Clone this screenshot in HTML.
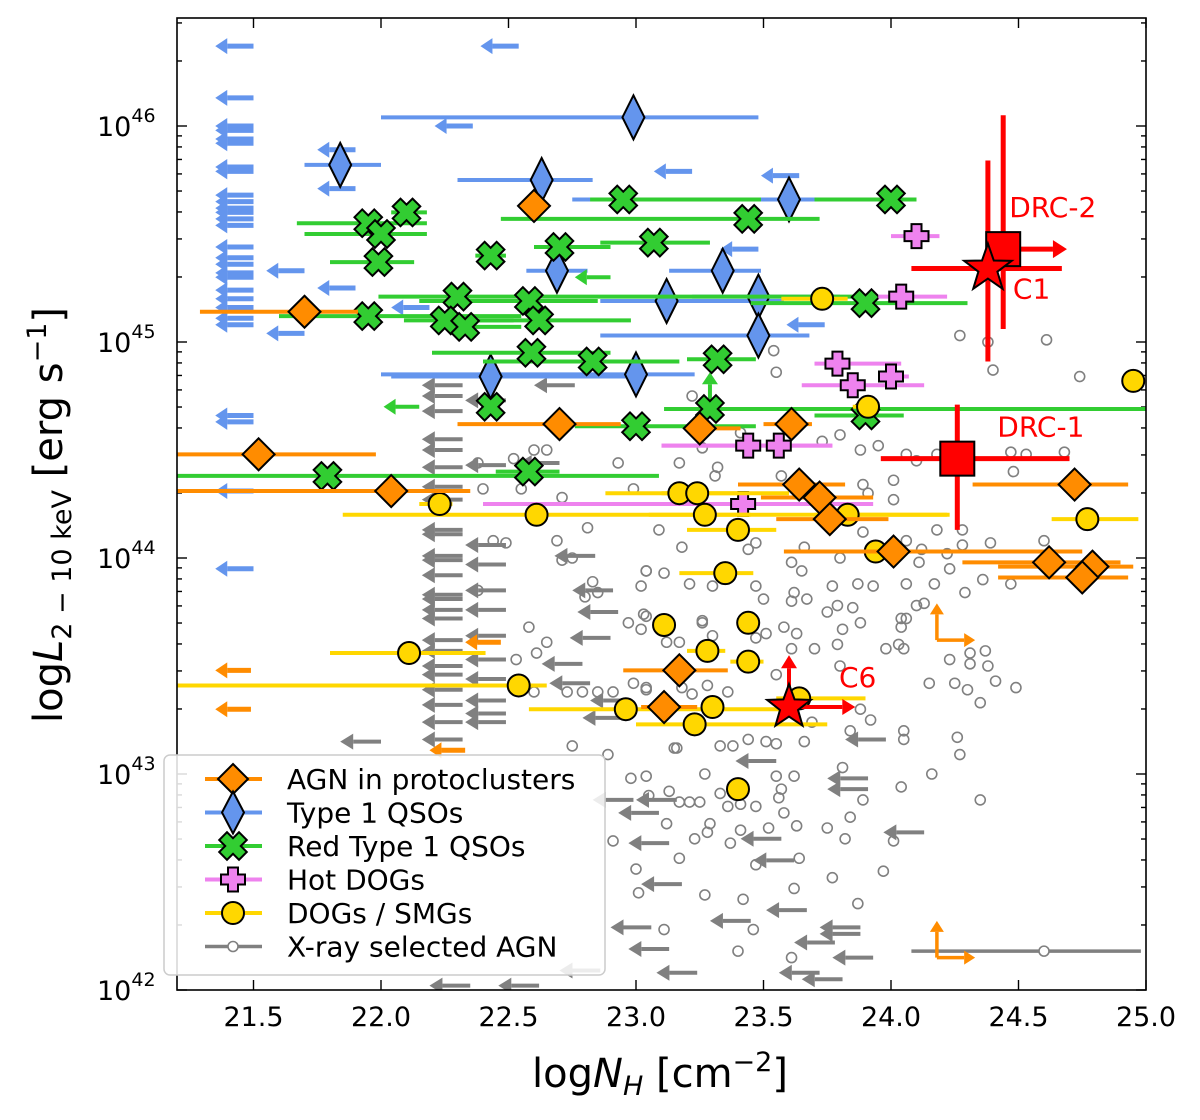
<!DOCTYPE html>
<html><head><meta charset="utf-8"><style>
html,body{margin:0;padding:0;background:#fff;}
svg{display:block;font-family:"DejaVu Sans","Liberation Sans",sans-serif;}
</style></head><body>
<svg id="chart" xmlns="http://www.w3.org/2000/svg" width="1200" height="1120" viewBox="0 0 1200 1120">
<rect x="0" y="0" width="1200" height="1120" fill="#fff"/>
<g id="ticks"></g>
<g id="plot"></g>
<rect x="177" y="18" width="969" height="972" fill="none" stroke="#000" stroke-width="1.6"/>
<g id="legend"></g>
<text x="660" y="1087" font-size="40" text-anchor="middle">log<tspan font-style="italic">N</tspan><tspan font-style="italic" font-size="27" dy="8">H</tspan><tspan dy="-8"> [cm</tspan><tspan font-size="27" dy="-16">−2</tspan><tspan dy="16">]</tspan></text>
<text transform="translate(62,515) rotate(-90)" font-size="40" text-anchor="middle">log<tspan font-style="italic">L</tspan><tspan font-size="27" dy="9">2 − 10 keV</tspan><tspan dy="-9"> [erg s</tspan><tspan font-size="27" dy="-16">−1</tspan><tspan dy="16">]</tspan></text>
</svg>
<script>
// ---- data (x = log NH, y = log L) ----
const xTicks=[21.5,22.0,22.5,23.0,23.5,24.0,24.5,25.0];
const xTickLabels=["21.5","22.0","22.5","23.0","23.5","24.0","24.5","25.0"];
const yTicks=[42,43,44,45,46];
const yTickLabels=["42","43","44","45","46"];

const agnNH=[21.70,22.60,21.52,22.04,22.70,23.25,23.61,23.64,23.72,23.76,24.01,24.72,24.62,24.79,24.75,23.17,23.11];
const agnL=[45.14,45.63,44.48,44.31,44.62,44.60,44.62,44.34,44.28,44.18,44.03,44.34,43.98,43.96,43.91,43.48,43.31];
const agnLo=[21.29,22.60,21.20,21.20,22.30,23.21,23.50,23.40,23.49,23.55,23.58,24.32,24.28,24.42,24.42,22.95,23.02];
const agnHi=[21.91,22.60,21.98,22.35,22.94,23.41,23.69,23.82,23.93,23.99,24.75,24.93,24.90,24.95,24.93,23.36,23.24];
const agnUlNH=[21.49,21.49,22.47,22.33];
const agnUlL=[43.48,43.30,43.61,43.11];
const agnLlNH=[24.18,24.18];
const agnLlL=[43.62,42.15];

const qsoNH=[22.99,21.84,22.63,23.60,22.69,23.34,23.12,23.48,23.48,22.43,23.00];
const qsoL=[46.04,45.82,45.75,45.66,45.33,45.33,45.19,45.21,45.03,44.84,44.85];
const qsoLo=[22.00,21.70,22.30,22.75,22.57,23.13,22.86,23.22,22.86,22.04,22.00];
const qsoHi=[23.48,22.00,22.83,23.70,22.81,23.49,23.58,23.80,23.68,23.02,23.23];
const qsoUlNH=[21.5,21.5,21.5,21.5,21.5,21.5,21.5,21.5,21.5,21.5,21.5,21.5,21.5,21.5,21.5,21.5,21.5,21.5,21.5,21.5,21.5,21.5,21.5,21.5,21.5,21.5,21.5,21.5,22.54,22.36,21.90,21.90,21.70,21.90,21.70,23.22,23.64,23.48,23.74,22.19];
const qsoUlL=[46.37,46.13,46.00,45.98,45.94,45.92,45.81,45.79,45.68,45.65,45.62,45.60,45.57,45.54,45.44,45.39,45.36,45.32,45.30,45.24,45.20,45.16,45.11,45.08,44.66,44.63,44.31,43.95,46.37,46.00,45.89,45.71,45.33,45.25,45.04,45.79,45.77,45.43,45.08,45.16];

const redNH=[22.95,23.44,24.00,22.10,21.95,22.00,21.99,22.43,22.70,23.07,21.95,22.30,22.25,22.33,22.58,22.62,22.59,22.83,23.90,23.32,23.29,22.43,23.00,23.90,22.58,21.79];
const redL=[45.66,45.57,45.66,45.60,45.55,45.50,45.37,45.40,45.44,45.46,45.12,45.21,45.10,45.07,45.19,45.10,44.95,44.91,45.18,44.92,44.69,44.70,44.61,44.66,44.40,44.38];
const redLo=[22.82,22.47,23.70,22.04,21.67,21.70,21.80,22.37,22.60,22.86,21.60,21.99,22.09,22.20,22.15,22.37,22.20,22.40,23.45,23.20,23.11,22.43,22.76,23.70,22.45,21.20];
const redHi=[23.49,23.72,24.10,22.18,22.18,22.18,22.13,22.49,22.90,23.29,22.55,23.90,22.52,22.55,22.85,22.98,22.90,23.17,24.30,23.47,25.00,22.43,23.47,24.05,22.70,23.09];
const redUlNH=[22.15,22.90];
const redUlL=[44.70,45.30];
const redLlLNH=[23.29];
const redLlLL=[44.69];

const hotNH=[24.10,24.04,23.79,23.85,24.00,23.44,23.56,23.42];
const hotL=[45.49,45.21,44.90,44.80,44.84,44.52,44.52,44.25];
const hotLo=[24.00,23.95,23.70,23.65,23.95,23.10,23.10,22.40];
const hotHi=[24.19,24.22,24.04,24.13,24.07,23.77,23.77,23.93];

const dogNH=[23.73,23.91,24.95,22.23,22.61,23.17,23.24,23.27,23.40,23.83,23.94,24.77,23.35,23.11,23.44,23.28,23.44,22.11,22.54,22.96,23.30,23.23,23.40,23.64];
const dogL=[45.20,44.70,44.82,44.25,44.20,44.30,44.30,44.20,44.13,44.20,44.03,44.18,43.93,43.69,43.70,43.57,43.52,43.56,43.41,43.30,43.31,43.23,42.93,43.35];
const dogLo=[23.57,23.85,24.95,22.15,21.85,22.88,23.10,23.05,23.20,23.70,23.94,24.63,23.17,23.11,23.44,23.20,23.37,21.80,21.20,22.58,23.30,23.00,23.40,23.55];
const dogHi=[23.83,23.95,24.95,22.28,24.23,23.60,23.40,23.45,23.55,24.22,23.94,24.97,23.46,23.11,23.44,23.35,23.50,22.41,22.65,23.58,23.30,23.75,23.40,23.90];

const xrNH=[23.16,23.33,23.38,23.44,23.51,23.55,23.66,24.05,24.26,24.27,24.16,23.81,23.27,22.98,23.04,23.55,23.62,24.04,24.35,23.13,23.17,23.21,23.25,23.33,23.36,23.41,23.47,23.57,23.56,23.58,23.89,23.05,23.12,23.29,23.28,23.23,23.37,23.41,23.52,23.63,23.75,23.84,23.82,24.01,22.91,23.17,23.47,23.64,23.77,23.97,23.00,23.01,23.27,23.42,23.62,23.87,23.11,23.46,23.40,23.61,
23.80,23.88,23.95,23.73,23.17,23.32,23.31,23.57,24.01,24.01,23.89,23.91,24.06,24.10,24.18,24.47,24.53,24.48,24.68,24.18,24.28,24.60,24.39,24.28,24.12,24.22,24.11,24.23,24.36,24.47,24.29,24.17,24.06,23.93,23.87,23.77,23.80,23.66,23.61,23.65,23.89,24.06,23.09,23.18,23.47,23.44,23.04,23.11,23.21,23.30,23.47,23.50,23.62,23.67,23.61,23.75,23.79,23.85,23.88,23.81,23.70,23.79,23.63,23.58,23.61,23.51,23.26,23.12,23.30,23.17,23.03,23.98,24.04,24.06,24.04,24.10,24.13,24.03,24.05,24.23,24.31,24.37,24.38,24.31,24.41,24.49,24.15,24.25,24.30,24.35,23.80,23.55,23.69,24.05,23.92,23.88,23.84,23.04,23.18,23.28,24.27,24.38,24.61,23.54,23.55,23.22,24.40,24.74,23.41,23.26,
22.38,22.52,22.60,22.65,22.71,22.40,22.55,22.93,22.99,22.81,22.44,22.49,22.69,22.71,22.75,22.38,22.83,22.80,22.85,23.04,23.02,22.97,23.04,23.02,23.26,23.47,22.58,22.65,22.61,22.53,22.60,22.73,22.79,22.85,22.91,22.99,23.04,23.22,23.36,22.75,22.89,23.15];
const xrL=[43.12,43.13,43.13,43.16,43.15,43.14,43.15,43.16,43.17,43.09,43.00,43.03,43.00,42.98,42.99,42.99,42.99,42.94,42.88,42.92,42.87,42.87,42.87,42.91,42.85,42.86,42.85,42.93,42.89,42.82,42.88,42.90,42.77,42.77,42.73,42.70,42.68,42.74,42.75,42.76,42.75,42.80,42.70,42.69,42.69,42.61,42.58,42.61,42.52,42.55,42.56,42.45,42.44,42.42,42.47,42.40,42.28,42.28,42.18,42.15,
44.57,44.50,44.52,44.54,44.44,44.42,44.38,44.38,44.36,44.27,44.34,44.30,44.48,44.45,44.48,44.49,44.48,44.40,44.49,44.13,44.13,44.08,44.07,44.06,44.04,44.02,43.98,43.95,43.90,43.88,43.84,43.88,43.88,43.87,43.88,43.87,44.00,44.05,43.98,43.94,44.12,44.08,44.13,44.05,44.07,44.04,43.94,43.93,43.88,43.87,43.87,43.81,43.84,43.81,43.80,43.75,43.78,43.77,43.70,43.67,43.58,43.60,43.65,43.68,43.58,43.65,43.71,43.61,43.64,43.61,43.74,43.58,43.72,43.72,43.68,43.78,43.79,43.60,43.58,43.53,43.56,43.57,43.50,43.51,43.43,43.40,43.42,43.42,43.39,43.33,43.50,43.46,43.24,43.20,43.25,43.30,43.20,43.39,43.40,43.41,45.03,45.00,45.01,44.96,44.86,44.75,44.87,44.84,44.58,44.51,
44.44,44.46,44.50,44.50,44.28,44.32,44.32,44.44,44.32,44.14,44.08,44.07,44.08,43.99,44.00,43.85,43.89,43.82,43.84,43.94,43.87,43.70,43.73,43.67,43.70,43.63,43.68,43.61,43.56,43.53,43.38,43.38,43.38,43.38,43.38,43.42,43.40,43.37,43.38,43.13,43.09,43.12];
const xrBarNH=[24.60];
const xrBarL=[42.18];
const xrBarLo=[24.08];
const xrBarHi=[24.98];
const xrUlNH=[22.32,22.32,22.32,22.32,22.32,22.32,22.32,22.32,22.32,22.32,22.32,22.32,22.32,22.32,22.32,22.32,22.32,22.32,22.32,22.32,22.32,22.32,22.32,22.32,22.32,
22.49,22.49,22.49,22.49,22.49,22.49,22.49,22.49,22.49,22.49,22.49,22.49,
22.76,22.70,22.84,22.91,22.93,22.90,22.79,22.82,22.98,22.95,22.00,23.91,23.91,23.55,23.18,23.67,23.45,23.88,23.88,23.78,23.93,23.57,23.62,24.13,23.13,23.06,23.24,23.72,23.81,23.13,23.16,23.09,22.99,23.98,22.35,22.62,22.86];
const xrUlL=[44.80,44.75,44.68,44.55,44.50,44.42,44.33,44.27,44.13,44.11,44.01,43.99,43.92,43.83,43.81,43.76,43.72,43.62,43.57,43.50,43.46,43.39,43.32,43.24,43.16,
44.73,44.43,44.06,43.97,43.85,43.76,43.64,43.53,43.44,43.34,43.28,43.24,
44.80,44.44,44.01,43.85,43.75,43.63,43.51,43.42,43.34,43.26,43.15,42.98,42.93,43.06,42.49,42.37,42.32,42.29,42.26,42.22,42.15,42.70,42.60,42.73,42.19,42.29,42.08,42.08,42.05,42.68,42.88,42.82,42.88,43.16,42.02,42.02,42.09];

// Special sources
const specNames=["DRC-2","C1","DRC-1","C6"];
const specNH=[24.44,24.38,24.26,23.60];
const specL=[45.43,45.34,44.46,43.31];
const specLo=[24.44,24.08,23.96,23.60];
const specHi=[24.44,24.67,24.70,23.60];
const specLlo=[45.06,44.91,44.13,43.31];
const specLhi=[46.05,45.84,44.71,43.31];

// ---- axes ----
const X0=177,X1=1146,Y0=18,Y1=990,XMIN=21.2,XMAX=25.0,YMIN=42,YMAX=46.5;
function sx(v){return X0+(v-XMIN)/(XMAX-XMIN)*(X1-X0);}
function sy(v){return Y1-(v-YMIN)/(YMAX-YMIN)*(Y1-Y0);}
const NS="http://www.w3.org/2000/svg";
function mk(tag,attrs,parent){const e=document.createElementNS(NS,tag);for(const k in attrs)e.setAttribute(k,attrs[k]);parent.appendChild(e);return e;}
const plot=document.getElementById('plot');
const ticks=document.getElementById('ticks');

const defs=mk('defs',{},plot);
const cp=mk('clipPath',{id:'clip'},defs);
mk('rect',{x:X0,y:Y0,width:X1-X0,height:Y1-Y0},cp);
const g=mk('g',{'clip-path':'url(#clip)'},plot);



xTicks.forEach((v,i)=>{
  const x=sx(v);
  const t1=mk('line',{x1:x,x2:x,y1:Y1,y2:Y1-10,stroke:'#000','stroke-width':1.4},ticks);
  
  
  const t2=mk('line',{x1:x,x2:x,y1:Y0,y2:Y0+10,stroke:'#000','stroke-width':1.4},ticks);
  
  
  const lb=mk('text',{x:x,y:1026,'font-size':27,'text-anchor':'middle'},ticks);
  lb.textContent=xTickLabels[i];
  
  
});
for(let d=42;d<=46;d++){
  for(let m=1;m<10;m++){
    const v=d+Math.log10(m);
    if(v>YMAX)break;
    const y=sy(v);
    const len=m===1?10:5;
    const a=mk('line',{x1:X0,x2:X0+len,y1:y,y2:y,stroke:'#000','stroke-width':1.4},ticks);
    
    
    const b=mk('line',{x1:X1,x2:X1-len,y1:y,y2:y,stroke:'#000','stroke-width':1.4},ticks);
    
    
  }
}
yTicks.forEach((v,i)=>{
  const y=sy(v);
  const t=mk('text',{x:97,y:y+10,'font-size':27},ticks);
  
  
  t.textContent='10';
  const s=mk('tspan',{'font-size':19,dy:-14},t);
  s.textContent=yTickLabels[i];
});

function hbar(lo,hi,y,color,parent){
  const l=mk('line',{x1:sx(lo),x2:sx(hi),y1:sy(y),y2:sy(y),stroke:color,'stroke-width':4},parent);
  
  
}
function arrow(x1,y1,x2,y2,color,w,hl,hw,parent,name){
  const ang=Math.atan2(y2-y1,x2-x1),c=Math.cos(ang),s=Math.sin(ang);
  const bx=x2-hl*c,by=y2-hl*s;
  const gg=mk('g',{},parent);
  
  
  mk('line',{x1:x1,y1:y1,x2:bx,y2:by,stroke:color,'stroke-width':w},gg);
  mk('polygon',{points:`${x2},${y2} ${bx-hw*s},${by+hw*c} ${bx+hw*s},${by-hw*c}`,fill:color},gg);
}
function diamond(cx,cy,w,h,fill,parent,name){
  const p=mk('polygon',{points:`${cx},${cy-h/2} ${cx+w/2},${cy} ${cx},${cy+h/2} ${cx-w/2},${cy}`,fill:fill,stroke:'#000','stroke-width':2},parent);
  
  
}
function crossPts(cx,cy,s,t,rot){
  const base=[[-t,-s],[t,-s],[t,-t],[s,-t],[s,t],[t,t],[t,s],[-t,s],[-t,t],[-s,t],[-s,-t],[-t,-t]];
  const c=Math.cos(rot),n=Math.sin(rot);
  return base.map(([a,b])=>`${cx+a*c-b*n},${cy+a*n+b*c}`).join(' ');
}
function star(cx,cy,R,r){
  let pts=[];
  for(let i=0;i<10;i++){const a=-Math.PI/2+i*Math.PI/5;const rr=i%2?r:R;pts.push(`${cx+rr*Math.cos(a)},${cy+rr*Math.sin(a)}`);}
  return pts.join(' ');
}

const gGrey=mk('g',{},g);


xrUlNH.forEach((v,i)=>{
  arrow(sx(v),sy(xrUlL[i]),sx(v-0.16),sy(xrUlL[i]),'#808080',4,13,8,gGrey,'xray-agn-upper-limit');
});
xrBarNH.forEach((v,i)=>{
  const l=mk('line',{x1:sx(xrBarLo[i]),x2:sx(xrBarHi[i]),y1:sy(xrBarL[i]),y2:sy(xrBarL[i]),stroke:'#808080','stroke-width':3.5},gGrey);
  
  
  const c=mk('circle',{cx:sx(v),cy:sy(xrBarL[i]),r:5,fill:'#fff',stroke:'#808080','stroke-width':1.6},gGrey);
  
  
});
xrNH.forEach((v,i)=>{
  const c=mk('circle',{cx:sx(v),cy:sy(xrL[i]),r:5,fill:'none',stroke:'#808080','stroke-width':1.6},gGrey);
  
  
});

const gQ=mk('g',{},g);


qsoUlNH.forEach((v,i)=>{
  arrow(sx(v),sy(qsoUlL[i]),sx(v-0.15),sy(qsoUlL[i]),'#6495ed',5,12,8,gQ,'type1-qso-upper-limit');
});
qsoNH.forEach((v,i)=>hbar(qsoLo[i],qsoHi[i],qsoL[i],'#6495ed',gQ));

const gR=mk('g',{},g);


redNH.forEach((v,i)=>hbar(redLo[i],redHi[i],redL[i],'#32cd32',gR));
redUlNH.forEach((v,i)=>{
  arrow(sx(v),sy(redUlL[i]),sx(v-0.14),sy(redUlL[i]),'#32cd32',4,12,8,gR,'red-qso-upper-limit');
});
redLlLNH.forEach((v,i)=>{
  arrow(sx(v),sy(redLlLL[i]),sx(v),sy(redLlLL[i]+0.17),'#32cd32',4,12,8,gR,'red-qso-lower-limit');
});

const gH=mk('g',{},g);


hotNH.forEach((v,i)=>hbar(hotLo[i],hotHi[i],hotL[i],'#ee82ee',gH));

const gD=mk('g',{},g);


dogNH.forEach((v,i)=>hbar(dogLo[i],dogHi[i],dogL[i],'#ffd700',gD));

const gA=mk('g',{},g);


agnNH.forEach((v,i)=>hbar(agnLo[i],agnHi[i],agnL[i],'#ff8c00',gA));
agnUlNH.forEach((v,i)=>{
  arrow(sx(v),sy(agnUlL[i]),sx(v-0.14),sy(agnUlL[i]),'#ff8c00',5,12,8,gA,'protocluster-agn-upper-limit');
});
agnLlNH.forEach((v,i)=>{
  arrow(sx(v),sy(agnLlL[i]),sx(v),sy(agnLlL[i]+0.17),'#ff8c00',3.5,11,7,gA,'protocluster-agn-lower-limit-l');
  arrow(sx(v),sy(agnLlL[i]),sx(v+0.15),sy(agnLlL[i]),'#ff8c00',3.5,11,7,gA,'protocluster-agn-lower-limit-nh');
});

qsoNH.forEach((v,i)=>diamond(sx(v),sy(qsoL[i]),22,44,'#6495ed',gQ,'type1-qso-marker'));
redNH.forEach((v,i)=>{
  const p=mk('polygon',{points:crossPts(sx(v),sy(redL[i]),14,5.5,Math.PI/4),fill:'#32cd32',stroke:'#000','stroke-width':2},gR);
  
  
});
hotNH.forEach((v,i)=>{
  const p=mk('polygon',{points:crossPts(sx(v),sy(hotL[i]),12,5,0),fill:'#ee82ee',stroke:'#000','stroke-width':2},gH);
  
  
});
dogNH.forEach((v,i)=>{
  const c=mk('circle',{cx:sx(v),cy:sy(dogL[i]),r:11,fill:'#ffd700',stroke:'#000','stroke-width':2},gD);
  
  
});
agnNH.forEach((v,i)=>diamond(sx(v),sy(agnL[i]),32,32,'#ff8c00',gA,'protocluster-agn-marker'));

const gS=mk('g',{},g);


specNH.forEach((v,i)=>{
  const x=sx(v),y=sy(specL[i]);
  if(specLo[i]!==specHi[i]){
    const l=mk('line',{x1:sx(specLo[i]),x2:sx(specHi[i]),y1:y,y2:y,stroke:'#ff0000','stroke-width':5},gS);
    
    
  }
  if(specLlo[i]!==specLhi[i]){
    const l=mk('line',{x1:x,x2:x,y1:sy(specLlo[i]),y2:sy(specLhi[i]),stroke:'#ff0000','stroke-width':5},gS);
    
    
  }
});
arrow(sx(specNH[0]),sy(specL[0]),sx(specNH[0]+0.25),sy(specL[0]),'#ff0000',5,14,9,gS,'drc2-lower-limit-arrow');
arrow(sx(specNH[3]),sy(specL[3]),sx(specNH[3]),sy(specL[3]+0.24),'#ff0000',4,13,8,gS,'c6-lower-limit-l-arrow');
arrow(sx(specNH[3]),sy(specL[3]),sx(specNH[3]+0.26),sy(specL[3]),'#ff0000',4,13,8,gS,'c6-lower-limit-nh-arrow');
[0,2].forEach(i=>{
  const r=mk('rect',{x:sx(specNH[i])-17,y:sy(specL[i])-17,width:34,height:34,fill:'#ff0000',stroke:'#000','stroke-width':2},gS);
  
  
});
[1,3].forEach(i=>{
  const p=mk('polygon',{points:star(sx(specNH[i]),sy(specL[i]),i===1?25:23,i===1?10:9.5),fill:'#ff0000',stroke:'#000','stroke-width':2},gS);
  
  
});
const labOff=[[6,-32],[25,30],[40,-22],[50,-20]];
specNH.forEach((v,i)=>{
  const t=mk('text',{x:sx(v)+labOff[i][0],y:sy(specL[i])+labOff[i][1],'font-size':28,fill:'#ff0000'},plot);
  t.textContent=specNames[i];
  
  
});

const lg=document.getElementById('legend');
const box=mk('rect',{x:164,y:755,width:441,height:220,rx:6,fill:'#fff','fill-opacity':0.85,stroke:'#ccc','stroke-width':1.5},lg);


const legLabels=["AGN in protoclusters","Type 1 QSOs","Red Type 1 QSOs","Hot DOGs","DOGs / SMGs","X-ray selected AGN"];
const legColors=["#ff8c00","#6495ed","#32cd32","#ee82ee","#ffd700","#808080"];
legLabels.forEach((lab,i)=>{
  const y=779+i*33.5;
  const eg=mk('g',{},lg);
  
  
  mk('line',{x1:205,x2:262,y1:y,y2:y,stroke:legColors[i],'stroke-width':i===5?3.5:4},eg);
  const cx=233;
  if(i===0)diamond(cx,y,30,30,'#ff8c00',eg,'legend-marker');
  if(i===1)diamond(cx,y,22,42,'#6495ed',eg,'legend-marker');
  if(i===2){const p=mk('polygon',{points:crossPts(cx,y,14,5.5,Math.PI/4),fill:'#32cd32',stroke:'#000','stroke-width':2},eg);}
  if(i===3){const p=mk('polygon',{points:crossPts(cx,y,12,5,0),fill:'#ee82ee',stroke:'#000','stroke-width':2},eg);}
  if(i===4){const c=mk('circle',{cx:cx,cy:y,r:11,fill:'#ffd700',stroke:'#000','stroke-width':2},eg);}
  if(i===5){const c=mk('circle',{cx:cx,cy:y,r:5,fill:'#fff',stroke:'#808080','stroke-width':1.6},eg);}
  const t=mk('text',{x:287,y:y+10,'font-size':28},eg);
  t.textContent=lab;
  
  
});
</script>
</body></html>
